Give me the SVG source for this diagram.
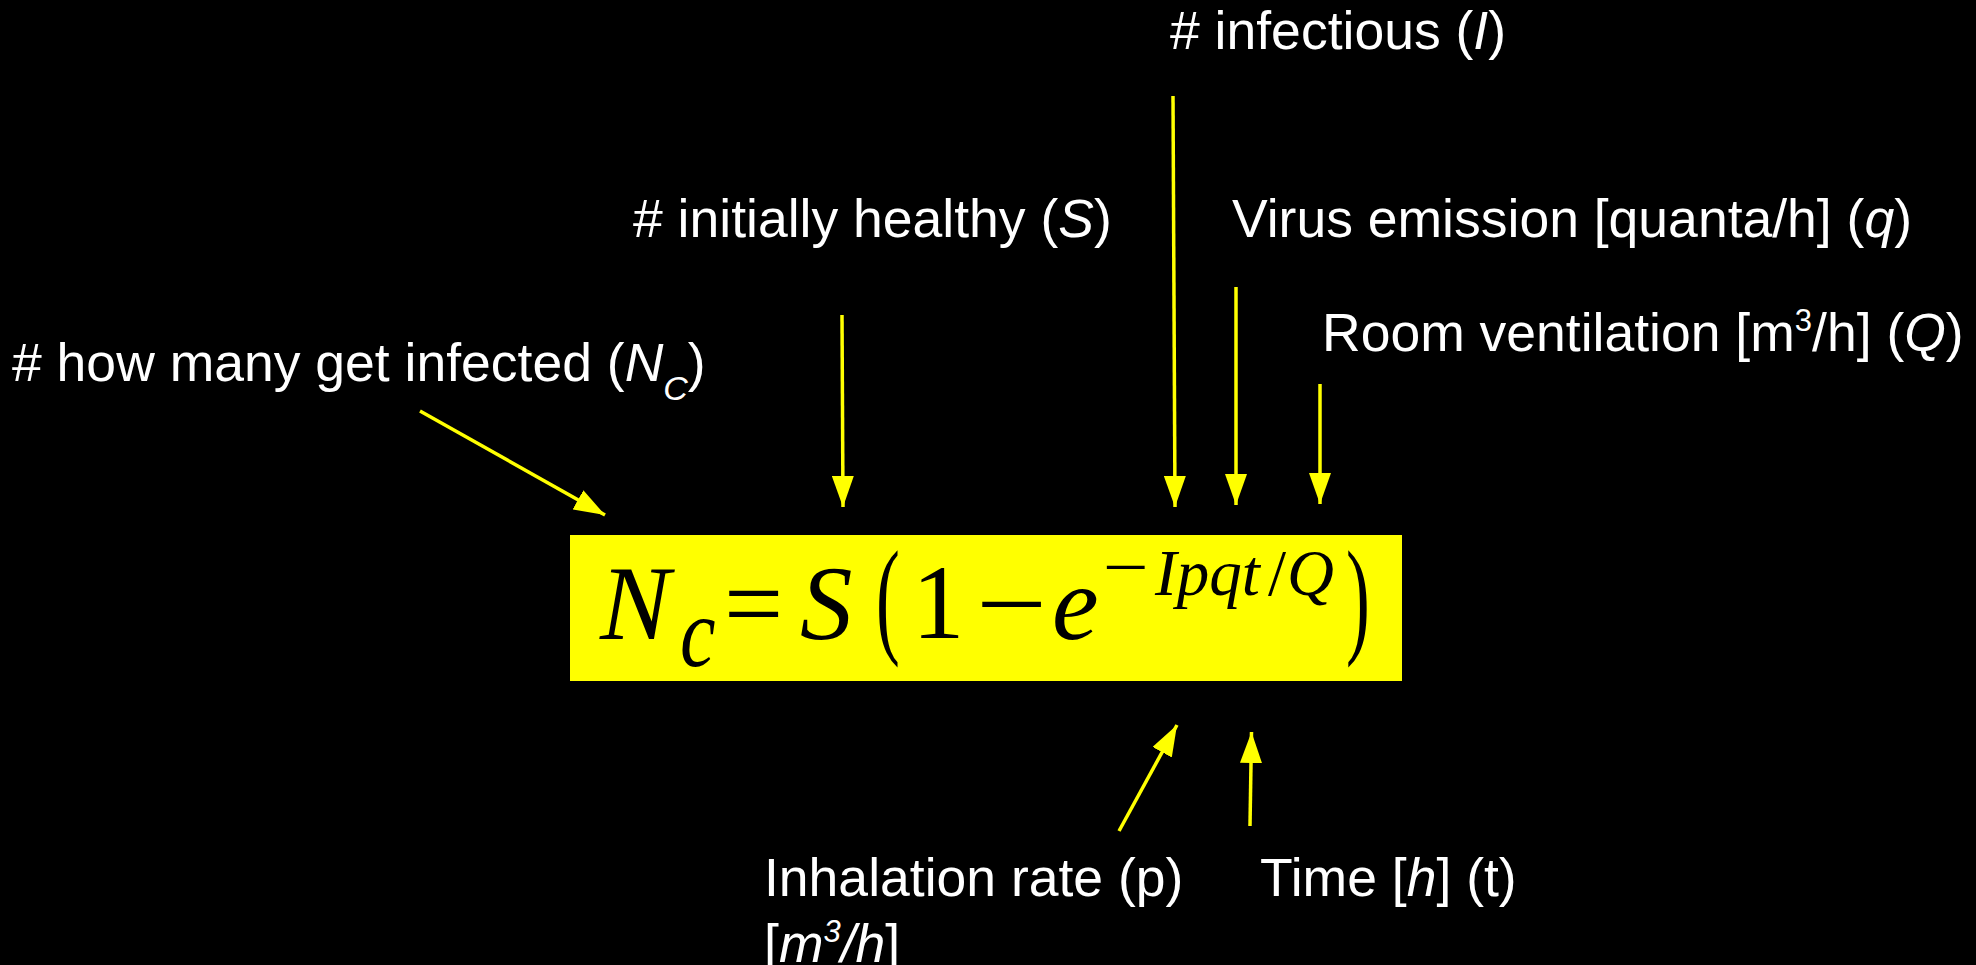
<svg xmlns="http://www.w3.org/2000/svg" width="1976" height="965" viewBox="0 0 1976 965">
<style>
.lbl{font-family:"Liberation Sans",Arial,sans-serif;font-size:53.5px;fill:#ffffff}
.it{font-style:italic}
.m{font-family:"Liberation Serif","Times New Roman",serif;fill:#000000}
.mi{font-style:italic}
.con{stroke:#ffff00;stroke-width:3.5;fill:none;marker-end:url(#ah)}
</style>
<defs>
<marker id="ah" markerUnits="userSpaceOnUse" markerWidth="32" markerHeight="22" refX="31" refY="11" orient="auto">
<path d="M0,0 L31,11 L0,22 Z" fill="#ffff00"/>
</marker>
</defs>
<rect x="0" y="0" width="1976" height="965" fill="#000000"/>

<g id="formula">
<rect x="570" y="535" width="832" height="146" fill="#ffff00"/>
<text class="m mi" x="600" y="639" font-size="105">N</text>
<text class="m mi" transform="translate(680,666) scale(0.8,1)" x="0" y="0" font-size="100">c</text>
<text class="m" x="724" y="639" font-size="105">=</text>
<text class="m mi" x="800" y="639" font-size="105">S</text>
<text class="m" transform="translate(876,640) scale(0.55,1)" x="0" y="0" font-size="130">(</text>
<text class="m" x="912" y="638" font-size="105">1</text>
<text class="m" transform="translate(976,639) scale(1.2,1)" x="0" y="0" font-size="105">−</text>
<text class="m mi" x="1052" y="639" font-size="105">e</text>
<text class="m" transform="translate(1103,589) scale(1.25,1)" x="0" y="0" font-size="65">−</text>
<text class="m mi" x="1155" y="595" font-size="65">Ipqt</text>
<text class="m" x="1268" y="595" font-size="65">/</text>
<text class="m mi" x="1287" y="595" font-size="65">Q</text>
<text class="m" transform="translate(1346,640) scale(0.55,1)" x="0" y="0" font-size="130">)</text>
</g>

<g id="label-infectious">
<text class="lbl" x="1170" y="49"># infectious (<tspan class="it">I</tspan>)</text>
</g>
<g id="label-healthy">
<text class="lbl" x="633" y="237"># initially healthy (<tspan class="it">S</tspan>)</text>
</g>
<g id="label-emission">
<text class="lbl" x="1232" y="237">Virus emission [quanta/h] (<tspan class="it">q</tspan>)</text>
</g>
<g id="label-ventilation">
<text class="lbl" x="1322" y="351">Room ventilation [m<tspan font-size="31" dy="-20">3</tspan><tspan dy="20">/h] (</tspan><tspan class="it">Q</tspan>)</text>
</g>
<g id="label-infected">
<text class="lbl" x="12" y="381"># how many get infected (<tspan class="it">N</tspan><tspan class="it" font-size="34" dy="19">C</tspan><tspan dy="-19">)</tspan></text>
</g>
<g id="label-inhalation">
<text class="lbl" x="764" y="896">Inhalation rate (p)</text>
<text class="lbl" x="764" y="962">[<tspan class="it">m</tspan><tspan class="it" font-size="31" dy="-20">3</tspan><tspan class="it" dy="20">/h</tspan>]</text>
</g>
<g id="label-time">
<text class="lbl" x="1260" y="896">Time [<tspan class="it">h</tspan>] (t)</text>
</g>

<g id="connectors">
<line class="con" x1="1173" y1="96" x2="1175" y2="507"/>
<line class="con" x1="842" y1="315" x2="843" y2="507"/>
<line class="con" x1="1236" y1="287" x2="1236" y2="505"/>
<line class="con" x1="1320" y1="384" x2="1320" y2="504"/>
<line class="con" x1="420" y1="411" x2="605" y2="515"/>
<line class="con" x1="1119" y1="831" x2="1177" y2="725"/>
<line class="con" x1="1250" y1="826" x2="1251.5" y2="732"/>
</g>
</svg>
